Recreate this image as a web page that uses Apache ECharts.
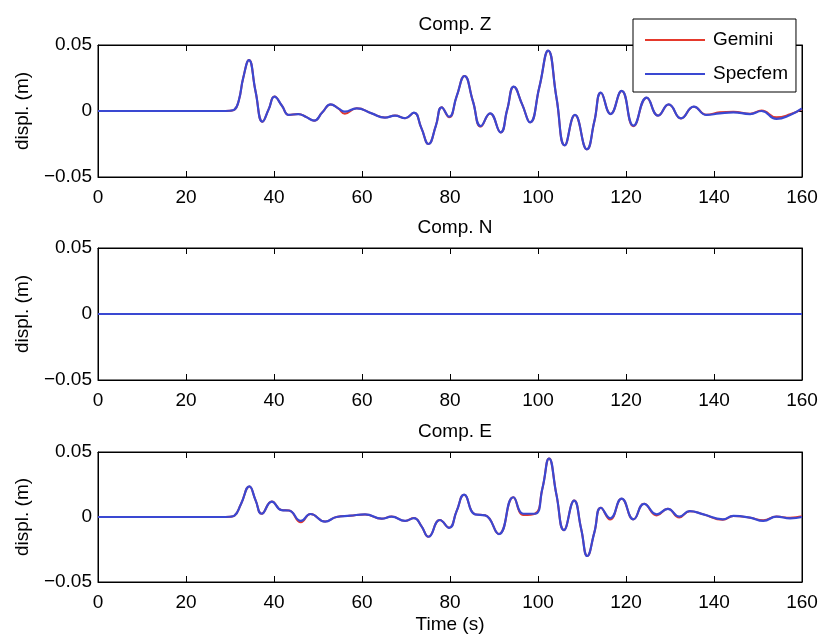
<!DOCTYPE html>
<html>
<head>
<meta charset="utf-8">
<script src="https://cdn.jsdelivr.net/npm/echarts@6/dist/echarts.min.js"></script>
<style>html,body{margin:0;padding:0;background:#fff;}#c{width:822px;height:635px;}</style>
</head>
<body>
<div id="c"></div>
<script>
// ---- data ----
const titles = ['Comp. Z', 'Comp. N', 'Comp. E'];
const xTicks = [0, 20, 40, 60, 80, 100, 120, 140, 160];
const yTicks = [-0.05, 0, 0.05];

const zTime = [0,5,10,15,20,25,28,30,31,32,33,34.3,35.8,37.4,38.8,40.1,41.8,43.4,45.5,47.3,49.1,51,52.9,54.6,56.1,58.8,62.2,65.2,67.5,69.8,71.8,73.5,75.1,76.8,78.1,79.8,81.5,83.3,85.2,87,89.1,91.5,93,94.5,96.4,98.2,100.3,102.3,104.2,106.1,108.4,111.1,112.8,114.3,116.5,119,121.7,124.7,127.3,129.7,132.5,135.4,138.3,141.3,144.4,148.2,150.8,154.2,157.3,160];
const zSpecfem = [0,0,0,0,0,0,0,0.0002,0.001,0.008,0.025,0.0386,0.015,-0.0081,0.0014,0.0109,0.004,-0.003,-0.0023,-0.0045,-0.0073,-0.001,0.005,0.002,-0.0005,0.002,-0.0018,-0.005,-0.0035,-0.0055,-0.0013,-0.013,-0.025,-0.011,0.0028,-0.0043,0.011,0.0265,0.0075,-0.0114,-0.0018,-0.0162,0.001,0.0184,0.005,-0.0086,0.018,0.0457,0.01,-0.026,-0.003,-0.029,-0.008,0.0139,-0.0023,0.0152,-0.0111,0.0101,-0.0035,0.005,-0.0056,0.0033,-0.003,-0.0018,-0.001,-0.0023,0,-0.006,-0.003,0.002];
const zGemini = [0,0,0,0,0,0,0,0.0002,0.001,0.008,0.025,0.0386,0.015,-0.0081,0.0014,0.0109,0.004,-0.003,-0.0023,-0.0045,-0.0073,-0.001,0.005,0.002,-0.002,0.002,-0.0018,-0.005,-0.0035,-0.0055,-0.0013,-0.013,-0.025,-0.011,0.0028,-0.0048,0.011,0.0265,0.0075,-0.0118,-0.0018,-0.0162,0.001,0.0184,0.005,-0.0086,0.018,0.0457,0.01,-0.026,-0.003,-0.029,-0.008,0.0139,-0.0023,0.0152,-0.0115,0.0101,-0.0035,0.005,-0.0056,0.0033,-0.0028,-0.001,-0.0005,-0.002,0.0003,-0.0048,-0.0025,0.0015];

const nTime = [0, 160];
const nSpecfem = [0, 0];
const nGemini = [0, 0];

const eTime = [0,10,20,28,30,31,32.5,34.4,35.8,37.2,39.5,41.7,43.4,46.1,48.3,51.6,54.2,57.3,60.7,64.5,66.7,69.8,71.8,73.5,75.1,77.7,79.8,81.5,83.2,85.7,88,91.1,94.4,96.7,99.3,101,102.5,104.2,105.9,108.2,109.8,111.2,112.8,114.3,116.4,119,121.7,124.1,127,129.5,132.1,134.5,137.6,142,144.4,148.2,151.2,154.2,157.3,160];
const eSpecfem = [0,0,0,0,0.0002,0.001,0.01,0.0235,0.013,0.0025,0.0119,0.0053,0.005,-0.003,0.0023,-0.0035,0,0.001,0.002,-0.0013,0.0003,-0.003,-0.0008,-0.007,-0.0152,-0.0023,-0.0083,0.0045,0.0172,0.002,0.0013,-0.0131,0.0152,0.0025,0.0025,0.022,0.045,0.017,-0.0101,0.0126,-0.009,-0.030,-0.012,0.0071,-0.001,0.0141,-0.0018,0.0101,0.002,0.0063,0.0003,0.0045,0.002,-0.0018,0.0008,-0.0005,-0.003,0.0003,-0.001,0];
const eGemini = [0,0,0,0,0.0002,0.001,0.01,0.0235,0.013,0.0025,0.0119,0.0053,0.005,-0.004,0.0023,-0.0035,0,0.001,0.002,-0.0013,0.0003,-0.003,-0.0008,-0.007,-0.0152,-0.0023,-0.0083,0.0045,0.0172,0.002,0.0013,-0.0131,0.0152,0.0015,0.0025,0.022,0.045,0.017,-0.0101,0.0126,-0.009,-0.030,-0.012,0.0071,-0.002,0.0141,-0.0018,0.0101,0.0012,0.0063,-0.0003,0.0045,0.002,-0.0022,0.0008,-0.0005,-0.0025,0.0003,-0.0005,0.0005];

// ---- chart ----
const FONT = 'Liberation Sans, Arial, Helvetica, sans-serif';
const RED = '#e5392c', BLUE = '#3a48d2';
const gridTops = [45, 248, 452];
const titleTops = [10, 213, 417];
const pairs = (t, v) => t.map((x, i) => [x, v[i]]);
const sets = [[zTime, zGemini, zSpecfem], [nTime, nGemini, nSpecfem], [eTime, eGemini, eSpecfem]];

const fmtY = v => {
  const r = Math.round(v * 100) / 100;
  if (r === 0) return '0';
  return (r < 0 ? '\u2212' : '') + Math.abs(r).toFixed(2);
};
const line = {show: true, onZero: false, lineStyle: {color: '#000', width: 1}};
const tick = {show: true, inside: true, length: 6, lineStyle: {color: '#000'}};

const grids = [], xAxes = [], yAxes = [], series = [], title = [];
for (let i = 0; i < 3; i++) {
  grids.push({left: 98, right: 20, top: gridTops[i], height: 132, show: true,
    borderColor: '#000', borderWidth: 1, backgroundColor: '#fff'});
  title.push({text: titles[i], left: 450, top: titleTops[i], textAlign: 'center',
    textStyle: {fontFamily: FONT, fontSize: 19, fontWeight: 'normal', color: '#000'}});
}
for (let i = 0; i < 3; i++) {
  xAxes.push({type: 'value', gridIndex: i, position: 'bottom', min: xTicks[0], max: xTicks[xTicks.length - 1],
    interval: xTicks[1] - xTicks[0],
    axisLine: line, axisTick: tick,
    axisLabel: {color: '#000', fontFamily: FONT, fontSize: 19, margin: 11},
    splitLine: {show: false},
    name: i === 2 ? 'Time (s)' : '', nameLocation: 'middle', nameGap: 33,
    nameTextStyle: {color: '#000', fontFamily: FONT, fontSize: 19}});
}
for (let i = 0; i < 3; i++) {
  xAxes.push({type: 'value', gridIndex: i, position: 'top', min: xTicks[0], max: xTicks[xTicks.length - 1],
    interval: xTicks[1] - xTicks[0],
    axisLine: line, axisTick: tick, axisLabel: {show: false}, splitLine: {show: false}});
}
for (let i = 0; i < 3; i++) {
  yAxes.push({type: 'value', gridIndex: i, position: 'left', min: yTicks[0], max: yTicks[2],
    interval: yTicks[1] - yTicks[0],
    axisLine: line, axisTick: tick,
    axisLabel: {color: '#000', fontFamily: FONT, fontSize: 19, margin: 6, formatter: fmtY},
    splitLine: {show: false},
    name: 'displ. (m)', nameLocation: 'middle', nameRotate: 90, nameGap: 66,
    nameTextStyle: {color: '#000', fontFamily: FONT, fontSize: 19}});
}
for (let i = 0; i < 3; i++) {
  yAxes.push({type: 'value', gridIndex: i, position: 'right', min: yTicks[0], max: yTicks[2],
    interval: yTicks[1] - yTicks[0],
    axisLine: line, axisTick: tick, axisLabel: {show: false}, splitLine: {show: false}});
}
for (let i = 0; i < 3; i++) {
  const [t, g, s] = sets[i];
  series.push({name: 'Gemini', type: 'line', xAxisIndex: i, yAxisIndex: i, data: pairs(t, g),
    smooth: true, symbol: 'none', lineStyle: {color: RED, width: 2}, itemStyle: {color: RED}, z: 2});
  series.push({name: 'Specfem', type: 'line', xAxisIndex: i, yAxisIndex: i, data: pairs(t, s),
    smooth: true, symbol: 'none', lineStyle: {color: BLUE, width: 2.2}, itemStyle: {color: BLUE}, z: 3});
}

const chart = echarts.init(document.getElementById('c'), null, {renderer: 'canvas'});
chart.setOption({
  animation: false,
  backgroundColor: '#fff',
  title: title,
  grid: grids,
  xAxis: xAxes,
  yAxis: yAxes,
  legend: {data: ['Gemini', 'Specfem'], orient: 'vertical', left: 633, top: 19,
    padding: [10, 8, 7, 12], itemGap: 12, itemWidth: 60, itemHeight: 2, icon: 'rect',
    backgroundColor: '#fff', borderColor: '#000', borderWidth: 1, z: 10,
    textStyle: {color: '#000', fontFamily: FONT, fontSize: 19, padding: [0, 0, 0, 3], lineHeight: 22}},
  series: series
});
</script>
</body>
</html>
